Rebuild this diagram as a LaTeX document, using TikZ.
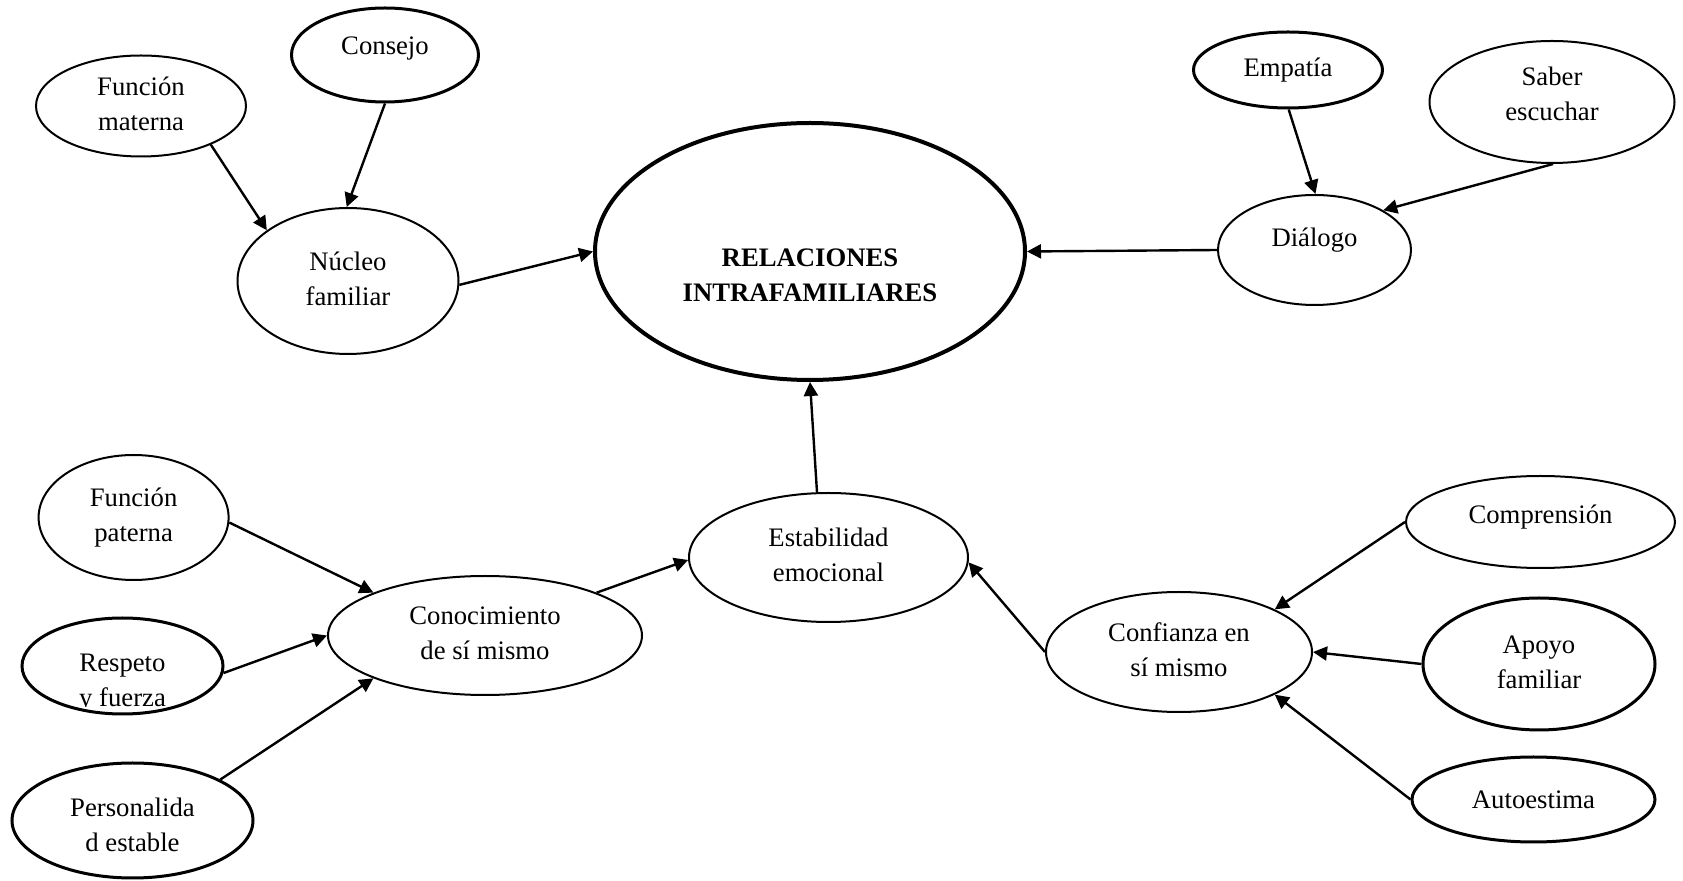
\documentclass[tikz,border=0pt]{standalone}
\usepackage{fontspec}
\setmainfont{Liberation Serif}
\usetikzlibrary{shapes.geometric,arrows.meta}
\newcommand\twol[2]{\begin{tabular}{@{}c@{}}#1\\#2\end{tabular}}
\newcommand\shiftt[2]{\raisebox{#1}[\height][\depth]{#2}}
\begin{document}
\begin{tikzpicture}[x=0.5pt,y=-0.5pt,
  tf/.style={font=\fontsize{13.35}{17.5}\selectfont},
  bub/.style={ellipse,draw,line width=1pt,inner sep=0pt,tf},
  bubm/.style={bub,line width=1.5pt},
  sz/.style 2 args={minimum width=#1pt,minimum height=#2pt},
  arr/.style={-{Triangle[length=7pt,width=7pt]},line width=1.2pt}]
\useasboundingbox (0,0) rectangle (1683,881);
% nodes
\node[bub,sz={105}{50.5}] (fmat) at (141,106) {\twol{Función}{materna}};
\node[bubm,sz={93.5}{47}] (cons) at (385,55) {\shiftt{3pt}{Consejo}};
\node[bub,sz={110.5}{73}] (nuc) at (348,281) {\twol{Núcleo}{familiar}};
\node[bub,line width=2pt,sz={215}{128.5}] (rel) at (810,251.5) {\shiftt{-13pt}{\bfseries\twol{RELACIONES}{INTRAFAMILIARES}}};
\node[bubm,sz={94.5}{38}] (emp) at (1288,70) {Empatía};
\node[bub,sz={122.5}{61}] (sab) at (1552,102) {\shiftt{2.75pt}{\twol{Saber}{escuchar}}};
\node[bub,sz={96.5}{55}] (dia) at (1314.5,250) {\shiftt{5pt}{Diálogo}};
\node[bub,sz={95}{62.5}] (fpat) at (133.6,517.5) {\twol{Función}{paterna}};
\node[bubm,sz={100.5}{48},path picture={\clip ([yshift=3.5pt]path picture bounding box.south west) rectangle (path picture bounding box.north east); \node[tf] at ([yshift=-8pt]path picture bounding box.center) {\twol{Respeto}{y fuerza}};}] (res) at (122.5,666) {};
\node[bubm,sz={120.5}{57.5}] (per) at (132.5,820.5) {\shiftt{-3.5pt}{\twol{Personalida}{d estable}}};
\node[bub,sz={157}{59.5}] (con) at (485,635.5) {\twol{Conocimiento}{de sí mismo}};
\node[bub,sz={139.5}{64.5}] (est) at (828.5,557.5) {\twol{Estabilidad}{emocional}};
\node[bub,sz={133}{60}] (cfz) at (1179,652) {\twol{Confianza en}{sí mismo}};
\node[bub,sz={134.5}{46}] (comp) at (1540.5,522) {\shiftt{2.5pt}{Comprensión}};
\node[bubm,sz={116}{66}] (apo) at (1539,664) {\twol{Apoyo}{familiar}};
\node[bubm,sz={121.5}{42.5}] (aut) at (1533.5,799.5) {Autoestima};
% connectors
\draw[arr] (fmat.-29) -- (nuc.148);
\draw[arr] (cons.-90) -- (nuc.91);
\draw[arr] (nuc.-2) -- (rel.180);
\draw[arr] (dia.180) -- (rel.0);
\draw[arr] (emp.-89) -- (dia.89.5);
\draw[arr] (sab.-89) -- (dia.30);
\draw[arr] (est.100.5) -- (rel.-90);
\draw[arr] (fpat.-3) -- (con.159);
\draw[arr] (res.-4) -- (con.180);
\draw[arr] (per.25) -- (con.-159);
\draw[arr] (con.21) -- (est.181);
\draw[arr] (cfz.180) -- (est.-2);
\draw[arr] (comp.180.5) -- (cfz.24.6);
\draw[arr] (apo.180) -- (cfz.0);
\draw[arr] (aut.180) -- (cfz.-24.6);
\end{tikzpicture}
\end{document}
